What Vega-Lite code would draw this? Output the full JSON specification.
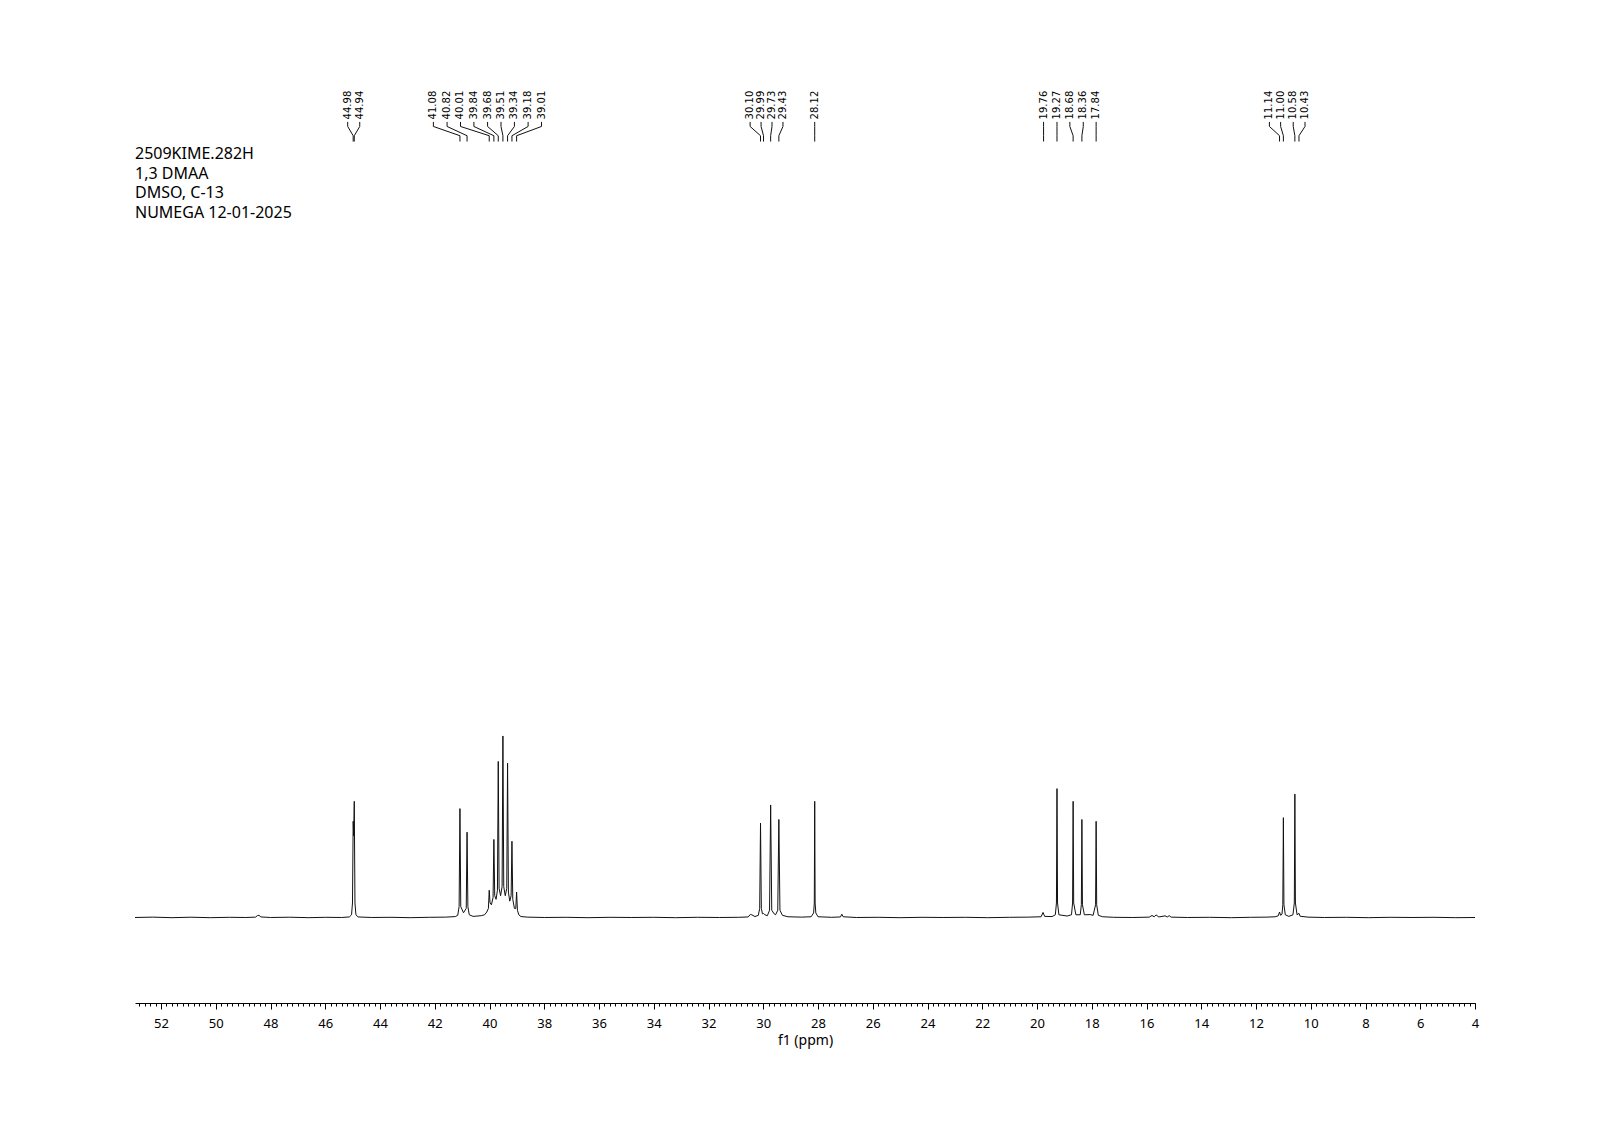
{
  "$schema": "https://vega.github.io/schema/vega-lite/v6.json",
  "width": 1340,
  "height": 923,
  "autosize": {"type": "none"},
  "padding": {"left": 135, "top": 80, "right": 125, "bottom": 128},
  "background": "white",
  "config": {
    "view": {"stroke": null},
    "font": "Noto Sans"
  },
  "datasets": {
    "spectrum": [
      {"ppm": 52.95, "i": 0}, {"ppm": 52.3, "i": 0.2}, {"ppm": 51.6, "i": -0.1}, {"ppm": 50.9, "i": 0.15},
      {"ppm": 50.2, "i": -0.1}, {"ppm": 49.5, "i": 0.1}, {"ppm": 48.9, "i": 0}, {"ppm": 48.55, "i": 0.2},
      {"ppm": 48.47, "i": 1.1}, {"ppm": 48.42, "i": 1.2}, {"ppm": 48.35, "i": 0.3}, {"ppm": 48.0, "i": 0},
      {"ppm": 47.3, "i": 0.15}, {"ppm": 46.6, "i": -0.1}, {"ppm": 46.0, "i": 0.1}, {"ppm": 45.4, "i": 0},
      {"ppm": 45.12, "i": 0.3}, {"ppm": 45.04, "i": 1.5}, {"ppm": 45.005, "i": 8}, {"ppm": 44.98, "i": 53},
      {"ppm": 44.96, "i": 45}, {"ppm": 44.94, "i": 64}, {"ppm": 44.915, "i": 8}, {"ppm": 44.88, "i": 1.5},
      {"ppm": 44.8, "i": 0.3}, {"ppm": 44.3, "i": 0}, {"ppm": 43.6, "i": 0.1}, {"ppm": 42.9, "i": -0.1},
      {"ppm": 42.2, "i": 0.1}, {"ppm": 41.6, "i": 0.2}, {"ppm": 41.25, "i": 0.5}, {"ppm": 41.16, "i": 1.2},
      {"ppm": 41.11, "i": 6}, {"ppm": 41.08, "i": 60}, {"ppm": 41.05, "i": 6}, {"ppm": 40.95, "i": 2.6},
      {"ppm": 40.85, "i": 5}, {"ppm": 40.82, "i": 47}, {"ppm": 40.79, "i": 6}, {"ppm": 40.74, "i": 1.5},
      {"ppm": 40.6, "i": 0.6}, {"ppm": 40.3, "i": 1}, {"ppm": 40.18, "i": 1.5}, {"ppm": 40.1, "i": 3},
      {"ppm": 40.04, "i": 5}, {"ppm": 40.01, "i": 15}, {"ppm": 39.98, "i": 8}, {"ppm": 39.93, "i": 7},
      {"ppm": 39.87, "i": 11}, {"ppm": 39.84, "i": 43}, {"ppm": 39.81, "i": 12}, {"ppm": 39.76, "i": 10},
      {"ppm": 39.71, "i": 15}, {"ppm": 39.68, "i": 86}, {"ppm": 39.65, "i": 16}, {"ppm": 39.595, "i": 12},
      {"ppm": 39.54, "i": 17}, {"ppm": 39.51, "i": 100}, {"ppm": 39.48, "i": 17}, {"ppm": 39.425, "i": 12},
      {"ppm": 39.37, "i": 16}, {"ppm": 39.34, "i": 85}, {"ppm": 39.31, "i": 14}, {"ppm": 39.26, "i": 9},
      {"ppm": 39.21, "i": 12}, {"ppm": 39.18, "i": 42}, {"ppm": 39.15, "i": 10}, {"ppm": 39.09, "i": 5},
      {"ppm": 39.04, "i": 5}, {"ppm": 39.01, "i": 14}, {"ppm": 38.98, "i": 4}, {"ppm": 38.93, "i": 1.5},
      {"ppm": 38.85, "i": 0.5}, {"ppm": 38.6, "i": 0.2}, {"ppm": 38.0, "i": 0}, {"ppm": 37.2, "i": 0.1},
      {"ppm": 36.4, "i": -0.1}, {"ppm": 35.6, "i": 0.1}, {"ppm": 34.8, "i": 0}, {"ppm": 34.0, "i": 0.1},
      {"ppm": 33.2, "i": -0.1}, {"ppm": 32.4, "i": 0.1}, {"ppm": 31.6, "i": 0}, {"ppm": 30.9, "i": 0.1},
      {"ppm": 30.55, "i": 0.3}, {"ppm": 30.47, "i": 1.7}, {"ppm": 30.42, "i": 1.5}, {"ppm": 30.3, "i": 0.5},
      {"ppm": 30.18, "i": 1.2}, {"ppm": 30.13, "i": 5}, {"ppm": 30.1, "i": 52}, {"ppm": 30.07, "i": 5},
      {"ppm": 30.03, "i": 2}, {"ppm": 29.99, "i": 2.2}, {"ppm": 29.94, "i": 1.5}, {"ppm": 29.85, "i": 1},
      {"ppm": 29.77, "i": 4}, {"ppm": 29.73, "i": 62}, {"ppm": 29.69, "i": 4}, {"ppm": 29.6, "i": 2},
      {"ppm": 29.55, "i": 1.5}, {"ppm": 29.47, "i": 4}, {"ppm": 29.43, "i": 54}, {"ppm": 29.39, "i": 4},
      {"ppm": 29.3, "i": 1.2}, {"ppm": 29.1, "i": 0.4}, {"ppm": 28.6, "i": 0.2}, {"ppm": 28.25, "i": 0.4},
      {"ppm": 28.16, "i": 2.5}, {"ppm": 28.135, "i": 8}, {"ppm": 28.12, "i": 64}, {"ppm": 28.105, "i": 8},
      {"ppm": 28.08, "i": 2.5}, {"ppm": 28.0, "i": 0.4}, {"ppm": 27.5, "i": 0.1}, {"ppm": 27.18, "i": 0.3},
      {"ppm": 27.13, "i": 1.8}, {"ppm": 27.08, "i": 0.4}, {"ppm": 26.6, "i": 0}, {"ppm": 25.8, "i": 0.1},
      {"ppm": 25.0, "i": -0.1}, {"ppm": 24.2, "i": 0.1}, {"ppm": 23.4, "i": 0}, {"ppm": 22.6, "i": 0.1},
      {"ppm": 21.8, "i": -0.1}, {"ppm": 21.0, "i": 0.1}, {"ppm": 20.3, "i": 0.2}, {"ppm": 19.85, "i": 0.4},
      {"ppm": 19.78, "i": 2.8}, {"ppm": 19.72, "i": 0.6}, {"ppm": 19.45, "i": 0.5}, {"ppm": 19.33, "i": 1.5},
      {"ppm": 19.29, "i": 8}, {"ppm": 19.27, "i": 71}, {"ppm": 19.25, "i": 8}, {"ppm": 19.2, "i": 1.5},
      {"ppm": 18.9, "i": 0.8}, {"ppm": 18.74, "i": 1.5}, {"ppm": 18.7, "i": 8}, {"ppm": 18.68, "i": 64},
      {"ppm": 18.66, "i": 8}, {"ppm": 18.58, "i": 1.5}, {"ppm": 18.42, "i": 1.5}, {"ppm": 18.38, "i": 7},
      {"ppm": 18.36, "i": 54}, {"ppm": 18.34, "i": 7}, {"ppm": 18.27, "i": 1.5}, {"ppm": 18.06, "i": 1.6},
      {"ppm": 17.95, "i": 1.2}, {"ppm": 17.86, "i": 7}, {"ppm": 17.84, "i": 53}, {"ppm": 17.82, "i": 7},
      {"ppm": 17.76, "i": 1.2}, {"ppm": 17.6, "i": 0.4}, {"ppm": 17.2, "i": 0.1}, {"ppm": 16.5, "i": 0},
      {"ppm": 15.9, "i": 0.2}, {"ppm": 15.8, "i": 1.1}, {"ppm": 15.72, "i": 0.4}, {"ppm": 15.65, "i": 1.4},
      {"ppm": 15.55, "i": 0.3}, {"ppm": 15.32, "i": 0.9}, {"ppm": 15.24, "i": 0.3}, {"ppm": 15.17, "i": 1.0},
      {"ppm": 15.1, "i": 0.2}, {"ppm": 14.5, "i": 0}, {"ppm": 13.7, "i": 0.1}, {"ppm": 12.9, "i": -0.1},
      {"ppm": 12.2, "i": 0.1}, {"ppm": 11.6, "i": 0.2}, {"ppm": 11.3, "i": 0.4}, {"ppm": 11.19, "i": 0.9},
      {"ppm": 11.14, "i": 3}, {"ppm": 11.1, "i": 1.2}, {"ppm": 11.05, "i": 1.8}, {"ppm": 11.02, "i": 7},
      {"ppm": 11.0, "i": 55}, {"ppm": 10.98, "i": 7}, {"ppm": 10.93, "i": 1.5}, {"ppm": 10.8, "i": 0.6},
      {"ppm": 10.65, "i": 1.5}, {"ppm": 10.6, "i": 8}, {"ppm": 10.58, "i": 68}, {"ppm": 10.56, "i": 8},
      {"ppm": 10.5, "i": 1.5}, {"ppm": 10.43, "i": 2.3}, {"ppm": 10.39, "i": 0.7}, {"ppm": 10.1, "i": 0.2},
      {"ppm": 9.5, "i": 0}, {"ppm": 8.7, "i": 0.1}, {"ppm": 7.9, "i": -0.1}, {"ppm": 7.1, "i": 0.1},
      {"ppm": 6.3, "i": 0}, {"ppm": 5.5, "i": 0.1}, {"ppm": 4.7, "i": -0.1}, {"ppm": 4.0, "i": 0}
    ],
    "peaks": [
      {"label": "44.98", "peak": 44.98, "lab": 45.18},
      {"label": "44.94", "peak": 44.94, "lab": 44.74},
      {"label": "41.08", "peak": 41.08, "lab": 42.05},
      {"label": "40.82", "peak": 40.82, "lab": 41.55},
      {"label": "40.01", "peak": 40.01, "lab": 41.06},
      {"label": "39.84", "peak": 39.84, "lab": 40.57},
      {"label": "39.68", "peak": 39.68, "lab": 40.07},
      {"label": "39.51", "peak": 39.51, "lab": 39.58},
      {"label": "39.34", "peak": 39.34, "lab": 39.09},
      {"label": "39.18", "peak": 39.18, "lab": 38.59},
      {"label": "39.01", "peak": 39.01, "lab": 38.10},
      {"label": "30.10", "peak": 30.10, "lab": 30.48},
      {"label": "29.99", "peak": 29.99, "lab": 30.08},
      {"label": "29.73", "peak": 29.73, "lab": 29.68},
      {"label": "29.43", "peak": 29.43, "lab": 29.28},
      {"label": "28.12", "peak": 28.12, "lab": 28.12},
      {"label": "19.76", "peak": 19.76, "lab": 19.76},
      {"label": "19.27", "peak": 19.27, "lab": 19.27},
      {"label": "18.68", "peak": 18.68, "lab": 18.80},
      {"label": "18.36", "peak": 18.36, "lab": 18.31},
      {"label": "17.84", "peak": 17.84, "lab": 17.84},
      {"label": "11.14", "peak": 11.14, "lab": 11.51},
      {"label": "11.00", "peak": 11.00, "lab": 11.10},
      {"label": "10.58", "peak": 10.58, "lab": 10.64},
      {"label": "10.43", "peak": 10.43, "lab": 10.21}
    ],
    "header": [
      {"t": "2509KIME.282H\n1,3 DMAA\nDMSO, C-13\nNUMEGA 12-01-2025"}
    ]
  },
  "resolve": {"scale": {"x": "shared", "y": "shared"}, "axis": {"x": "independent"}},
  "layer": [
    {
      "data": {"name": "spectrum"},
      "mark": {"type": "line", "color": "#111111", "strokeWidth": 1, "interpolate": "linear"},
      "encoding": {
        "x": {
          "field": "ppm", "type": "quantitative",
          "scale": {"domain": [4, 52.95], "reverse": true, "nice": false, "zero": false},
          "axis": {
            "orient": "bottom", "values": [52, 50, 48, 46, 44, 42, 40, 38, 36, 34, 32, 30, 28, 26, 24, 22, 20, 18, 16, 14, 12, 10, 8, 6, 4],
            "title": "f1 (ppm)", "titleFont": "Noto Sans", "titleFontSize": 14, "titleFontWeight": "normal", "titleColor": "#000000", "titlePadding": 3,
            "labelFont": "Noto Sans", "labelFontSize": 13, "labelColor": "#000000", "labelPadding": 8, "labelFlush": false, "labelOverlap": false,
            "tickSize": 6, "tickColor": "#000000", "tickWidth": 1, "domainColor": "#000000", "domainWidth": 1, "grid": false
          }
        },
        "y": {
          "field": "i", "type": "quantitative",
          "scale": {"domain": [-47.11, 461.4], "nice": false, "zero": false},
          "axis": null
        }
      }
    },
    {
      "data": {"name": "peaks"},
      "mark": {"type": "rule", "color": "#111111", "strokeWidth": 1},
      "encoding": {
        "x": {
          "field": "lab", "type": "quantitative",
          "scale": {"domain": [4, 52.95], "reverse": true, "nice": false, "zero": false},
          "axis": {"orient": "bottom", "tickCount": 245, "labels": false, "domain": false, "title": null, "tickSize": 3, "tickColor": "#000000", "tickWidth": 1, "grid": false}
        },
        "y": {"datum": 438.3, "type": "quantitative", "scale": {"domain": [-47.11, 461.4], "nice": false, "zero": false}, "axis": null},
        "y2": {"datum": 435.8}
      }
    },
    {
      "data": {"name": "peaks"},
      "mark": {"type": "rule", "color": "#111111", "strokeWidth": 1},
      "encoding": {
        "x": {"field": "lab", "type": "quantitative", "axis": null},
        "x2": {"field": "peak"},
        "y": {"datum": 435.8, "type": "quantitative", "axis": null},
        "y2": {"datum": 430.7}
      }
    },
    {
      "data": {"name": "peaks"},
      "mark": {"type": "rule", "color": "#111111", "strokeWidth": 1},
      "encoding": {
        "x": {"field": "peak", "type": "quantitative", "axis": null},
        "y": {"datum": 430.7, "type": "quantitative", "axis": null},
        "y2": {"datum": 427.5}
      }
    },
    {
      "data": {"name": "peaks"},
      "mark": {"type": "text", "angle": 270, "align": "left", "baseline": "middle", "font": "DejaVu Sans", "fontSize": 10, "color": "#000000"},
      "encoding": {
        "x": {"field": "lab", "type": "quantitative", "axis": null},
        "y": {"datum": 439.7, "type": "quantitative", "axis": null},
        "text": {"field": "label"}
      }
    },
    {
      "data": {"name": "header"},
      "mark": {"type": "text", "align": "left", "baseline": "alphabetic", "font": "Noto Sans", "fontSize": 16, "lineHeight": 19.4, "lineBreak": "\n", "color": "#000000"},
      "encoding": {
        "x": {"datum": 52.95, "type": "quantitative", "axis": null},
        "y": {"datum": 417.7, "type": "quantitative", "axis": null},
        "text": {"field": "t"}
      }
    }
  ]
}
